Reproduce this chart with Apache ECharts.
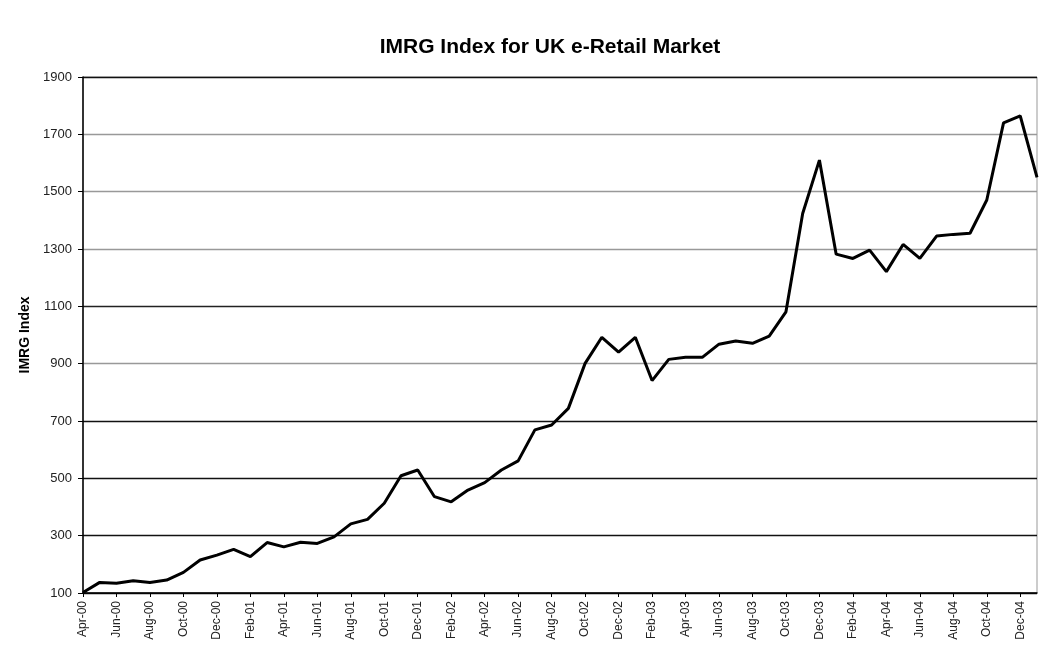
<!DOCTYPE html>
<html>
<head>
<meta charset="utf-8">
<script src="https://cdn.jsdelivr.net/npm/echarts@6/dist/echarts.min.js"></script>
<style>
html,body{margin:0;padding:0;background:#fff;}
#chart{width:1062px;height:655px;}
</style>
</head>
<body>
<div id="chart"></div>
<script>
var months = [
  'Apr-00','May-00','Jun-00','Jul-00','Aug-00','Sep-00','Oct-00','Nov-00','Dec-00',
  'Jan-01','Feb-01','Mar-01','Apr-01','May-01','Jun-01','Jul-01','Aug-01','Sep-01','Oct-01','Nov-01','Dec-01',
  'Jan-02','Feb-02','Mar-02','Apr-02','May-02','Jun-02','Jul-02','Aug-02','Sep-02','Oct-02','Nov-02','Dec-02',
  'Jan-03','Feb-03','Mar-03','Apr-03','May-03','Jun-03','Jul-03','Aug-03','Sep-03','Oct-03','Nov-03','Dec-03',
  'Jan-04','Feb-04','Mar-04','Apr-04','May-04','Jun-04','Jul-04','Aug-04','Sep-04','Oct-04','Nov-04','Dec-04',
  'Jan-05'
];
var imrgIndex = [
  102,137,134,143,137,145,172,215,232,
  252,227,276,261,277,273,296,341,357,413,509,529,
  436,418,459,485,529,561,669,686,744,901,992,940,
  992,841,915,922,922,968,979,971,996,1081,1424,1610,
  1282,1267,1296,1221,1316,1267,1345,1351,1355,1471,1740,1764,
  1550
];
var yTicks = [100,300,500,700,900,1100,1300,1500,1700,1900];
var gridColors = ['#111','#111','#111','#111','#999','#222','#999','#999','#999','#111'];

var chart = echarts.init(document.getElementById('chart'), null, {renderer:'canvas'});
chart.setOption({
  backgroundColor:'#fff',
  animation:false,
  title:{
    text:'IMRG Index for UK e-Retail Market',
    left:545, top:32, textAlign:'center',
    textStyle:{fontFamily:'Liberation Sans, Arial, sans-serif', fontSize:21, fontWeight:'bold', color:'#000'}
  },
  grid:{left:83, right:25, top:77, bottom:62, show:true, borderColor:'#999', borderWidth:1, containLabel:false},
  xAxis:{
    type:'category',
    data:months,
    boundaryGap:false,
    axisLine:{lineStyle:{color:'#000', width:1.5}},
    axisTick:{show:true, interval:1, length:4, lineStyle:{color:'#000'}},
    axisLabel:{interval:1, rotate:90, margin:8, fontSize:12, color:'#222', fontFamily:'Liberation Sans, Arial, sans-serif'},
    splitLine:{show:false}
  },
  yAxis:{
    type:'value',
    min:yTicks[0], max:yTicks[yTicks.length-1], interval:200,
    name:'IMRG Index', nameLocation:'middle', nameGap:47,
    nameTextStyle:{fontFamily:'Liberation Sans, Arial, sans-serif', fontSize:14, fontWeight:'bold', color:'#000'},
    axisLine:{show:true, lineStyle:{color:'#000', width:1.5}},
    axisTick:{show:true, length:5, lineStyle:{color:'#000'}},
    axisLabel:{margin:11, fontSize:13, color:'#222', fontFamily:'Liberation Sans, Arial, sans-serif',
      formatter:function(v){ return String(v); }},
    splitLine:{show:true, lineStyle:{color:gridColors, width:1.3}}
  },
  series:[{
    type:'line',
    data:imrgIndex,
    showSymbol:false,
    symbol:'none',
    lineStyle:{color:'#000', width:3},
    itemStyle:{color:'#000'}
  }]
});
</script>
</body>
</html>
